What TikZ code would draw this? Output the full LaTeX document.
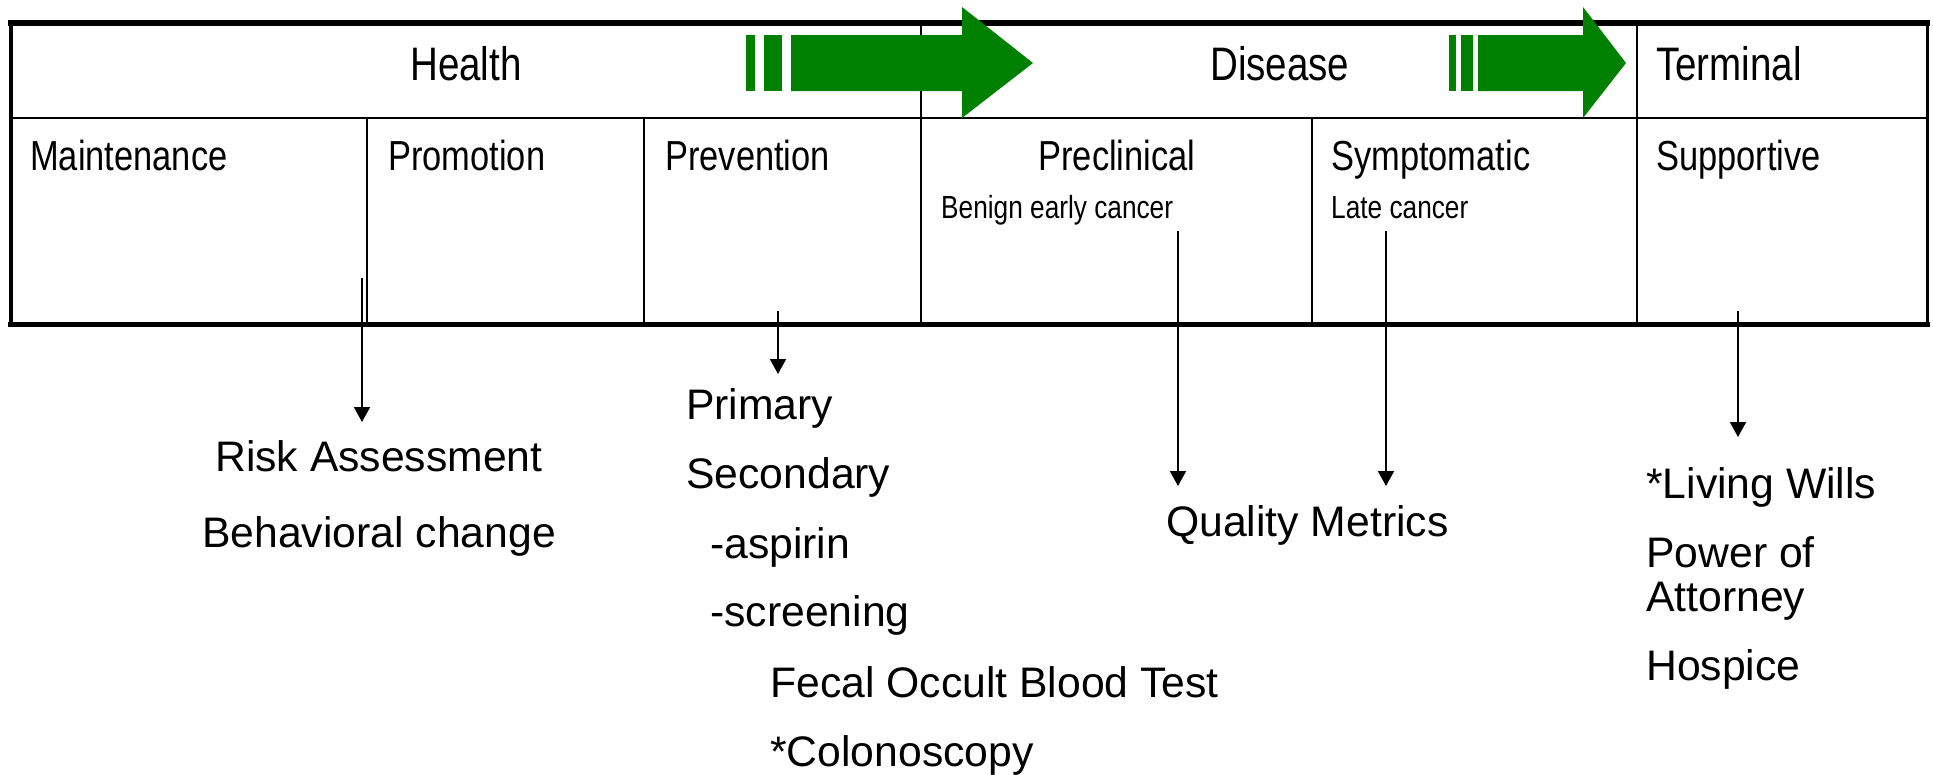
\documentclass[tikz,border=0pt]{standalone}
\usepackage{fontspec}
\setmainfont{Liberation Sans}
\newfontfamily\narrowfont[FakeStretch=0.82]{Liberation Sans}
\usetikzlibrary{arrows.meta}
\definecolor{arrowgreen}{RGB}{0,128,0}
\begin{document}
\begin{tikzpicture}[x=1pt,y=-1pt,
  hdr/.style={inner sep=0pt,anchor=base west,font=\narrowfont\fontsize{47}{56}\selectfont},
  sub/.style={inner sep=0pt,anchor=base west,font=\narrowfont\fontsize{42}{50}\selectfont},
  smalltxt/.style={inner sep=0pt,anchor=base west,font=\narrowfont\fontsize{32}{38}\selectfont},
  lbl/.style={inner sep=0pt,anchor=base west,font=\fontsize{42.7}{50}\selectfont},
  rulethin/.style={line width=2pt},
  ruleside/.style={line width=3.5pt},
  ruletop/.style={line width=6pt},
  rulebot/.style={line width=5pt},
  conn/.style={line width=2pt,-{Triangle[width=16pt,length=15pt]}},
  bigarrow/.style={fill=arrowgreen,draw=none}
]
\useasboundingbox (0,0) rectangle (1933,774);
% table
\draw[ruleside] (11,23) -- (11,324);
\draw[ruleside] (1927.5,23) -- (1927.5,324);
\draw[rulethin] (11,117.5) -- (1927,117.5);
\draw[rulethin] (921,23) -- (921,324);
\draw[rulethin] (1637,23) -- (1637,324);
\draw[rulethin] (367,117.5) -- (367,324);
\draw[rulethin] (644,117.5) -- (644,324);
\draw[rulethin] (1312,117.5) -- (1312,324);
\draw[ruletop] (8,23) -- (1930,23);
\draw[rulebot] (8,324.5) -- (1930,324.5);
% green arrows
\fill[bigarrow] (746,35) rectangle (755,91);
\fill[bigarrow] (764,35) rectangle (782,91);
\fill[bigarrow] (791,35) -- (962,35) -- (962,7) -- (1033,63) -- (962,118) -- (962,91) -- (791,91) -- cycle;
\fill[bigarrow] (1449,35) rectangle (1456,91);
\fill[bigarrow] (1461,35) rectangle (1473,91);
\fill[bigarrow] (1478,35) -- (1583,35) -- (1583,7) -- (1626,63) -- (1583,118) -- (1583,91) -- (1478,91) -- cycle;
% header texts
\node[hdr] (health) at (410,80) {Health};
\node[hdr] (disease) at (1210,80) {Disease};
\node[hdr] (terminal) at (1656,80) {Terminal};
% row 2
\node[sub] (maint) at (30,170) {Maintenance};
\node[sub] (promo) at (388,170) {Promotion};
\node[sub] (prev) at (665,170) {Prevention};
\node[sub,anchor=base] (precl) at (1117,170) {Preclinical};
\node[sub] (sympt) at (1331,170) {Symptomatic};
\node[sub] (supp) at (1656,170) {Supportive};
\node[smalltxt] (benign) at (941,218) {Benign early cancer};
\node[smalltxt] (late) at (1331,218) {Late cancer};
% lower labels
\node[lbl] (risk) at (215,471) {Risk Assessment};
\node[lbl] (behav) at (202,547) {Behavioral change};
\node[lbl] (primary) at (686,419) {Primary};
\node[lbl] (secondary) at (686,488) {Secondary};
\node[lbl] (aspirin) at (710,558) {-aspirin};
\node[lbl] (screening) at (710,626) {-screening};
\node[lbl] (fobt) at (770,697) {Fecal Occult Blood Test};
\node[lbl] (colono) at (770,766) {*Colonoscopy};
\node[lbl] (quality) at (1166,536) {Quality Metrics};
\node[lbl] (living) at (1646,498) {*Living Wills};
\node[lbl] (power) at (1646,567) {Power of};
\node[lbl] (attorney) at (1646,611) {Attorney};
\node[lbl] (hospice) at (1646,680) {Hospice};
% connectors
\coordinate (s1) at (362,278); \coordinate (e1) at (362,422);
\coordinate (s2) at (778,311); \coordinate (e2) at (778,374);
\coordinate (s3) at (1178,231); \coordinate (e3) at (1178,486);
\coordinate (s4) at (1386,231); \coordinate (e4) at (1386,486);
\coordinate (s5) at (1738,311); \coordinate (e5) at (1738,437);
\draw[conn] (s1) -- (e1);
\draw[conn] (s2) -- (e2);
\draw[conn] (s3) -- (e3);
\draw[conn] (s4) -- (e4);
\draw[conn] (s5) -- (e5);
\end{tikzpicture}
\end{document}
